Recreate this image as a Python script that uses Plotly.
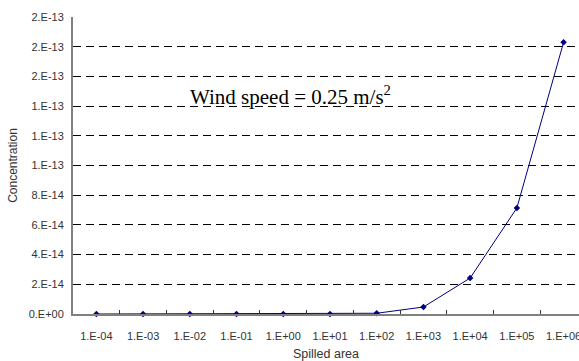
import plotly.graph_objects as go

categories = ["1.E-04", "1.E-03", "1.E-02", "1.E-01", "1.E+00", "1.E+01",
              "1.E+02", "1.E+03", "1.E+04", "1.E+05", "1.E+06"]
concentration = [0.0, 0.0, 0.0, 0.0, 0.0, 0.0,
                 5e-16, 4.7e-15, 2.42e-14, 7.14e-14, 1.83e-13]
y_tickvals = [0, 2e-14, 4e-14, 6e-14, 8e-14, 1e-13, 1.2e-13, 1.4e-13, 1.6e-13, 1.8e-13, 2e-13]
y_ticktext = ["0.E+00", "2.E-14", "4.E-14", "6.E-14", "8.E-14", "1.E-13",
              "1.E-13", "1.E-13", "2.E-13", "2.E-13", "2.E-13"]

fig = go.Figure()
fig.add_trace(go.Scatter(
    x=categories, y=concentration, mode="lines+markers",
    line=dict(color="#000080", width=1),
    marker=dict(symbol="diamond", size=5, color="#000080"),
    showlegend=False, cliponaxis=False,
))

tick_font = dict(family="Liberation Sans, Arial, sans-serif", size=11, color="#333333")

fig.update_layout(
    width=579, height=361,
    margin=dict(l=73, r=0, t=17, b=47, autoexpand=False),
    paper_bgcolor="white", plot_bgcolor="white",
    xaxis=dict(
        type="category", range=[-0.5, 10.33], tickson="boundaries",
        ticks="inside", ticklen=4, tickcolor="#333333", automargin=False,
        showline=True, linecolor="#808080", linewidth=2,
        showgrid=False, tickfont=tick_font, ticklabelstandoff=11,
        title=dict(text="Spilled area", font=dict(family="Liberation Sans, Arial, sans-serif", size=12.5, color="#333333"), standoff=8),
    ),
    yaxis=dict(
        range=[0, 2e-13], tickvals=y_tickvals, ticktext=y_ticktext,
        automargin=False,
        showline=True, linecolor="#808080", linewidth=2,
        showgrid=True, gridcolor="#000000", gridwidth=1, griddash="8px,5px",
        zeroline=False, ticks="", tickfont=tick_font, ticklabelstandoff=5,
        title=dict(text="Concentration", font=dict(family="Liberation Sans, Arial, sans-serif", size=12, color="#333333"), standoff=8),
    ),
    annotations=[dict(
        text="Wind speed = 0.25 m/s<sup>2</sup>", xref="paper", yref="paper",
        x=0.429, y=0.735, xanchor="center", yanchor="middle", showarrow=False,
        font=dict(family="Liberation Serif, Times New Roman, serif", size=21, color="#000000"),
    )],
)

fig.write_html("out.html", config={"displayModeBar": False},
               post_script="document.body.style.margin='0';")
